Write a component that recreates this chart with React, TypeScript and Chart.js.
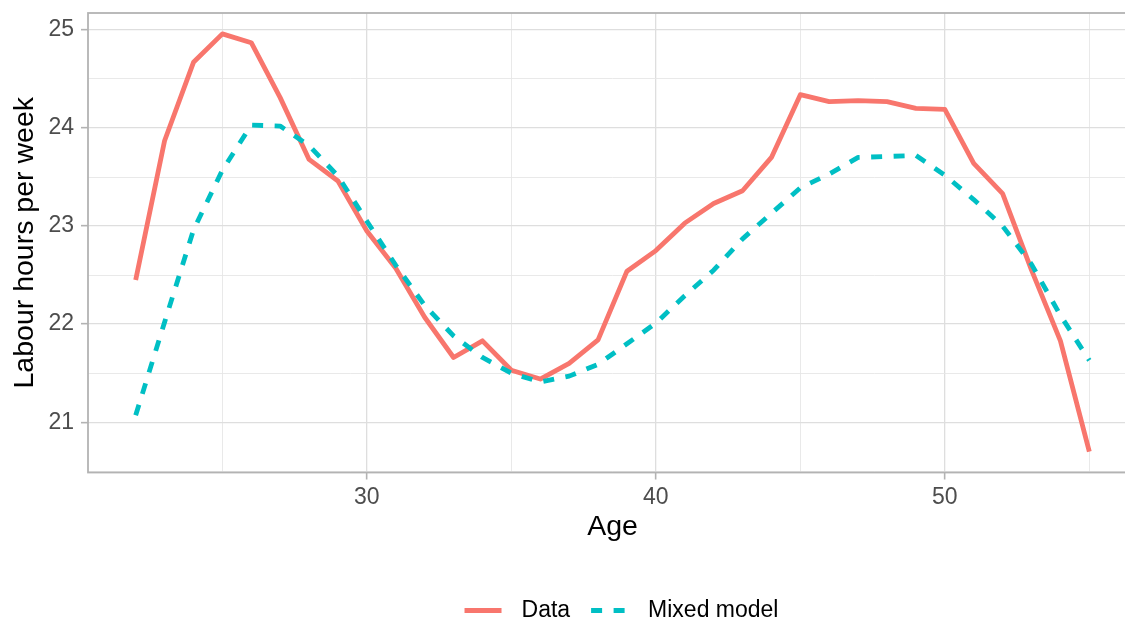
import React, { useEffect, useRef } from 'react';
import { Chart, registerables } from 'chart.js';

Chart.register(...registerables);

// ---- Data ----
const ages = [22, 23, 24, 25, 26, 27, 28, 29, 30, 31, 32, 33, 34, 35, 36, 37, 38, 39, 40, 41, 42, 43, 44, 45, 46, 47, 48, 49, 50, 51, 52, 53, 54, 55];
const dataHours = [22.45, 23.87, 24.67, 24.96, 24.87, 24.31, 23.68, 23.46, 22.95, 22.57, 22.07, 21.66, 21.83, 21.53, 21.44, 21.60, 21.84, 22.54, 22.75, 23.03, 23.23, 23.36, 23.70, 24.34, 24.27, 24.28, 24.27, 24.20, 24.19, 23.64, 23.33, 22.55, 21.83, 20.70];
const modelHours = [21.07, 22.02, 22.96, 23.57, 24.03, 24.02, 23.82, 23.51, 23.05, 22.60, 22.19, 21.88, 21.66, 21.50, 21.41, 21.47, 21.59, 21.80, 22.01, 22.29, 22.55, 22.87, 23.13, 23.39, 23.53, 23.70, 23.71, 23.72, 23.52, 23.27, 23.00, 22.61, 22.09, 21.63];
const seriesNames = ['Data', 'Mixed model'];
const xMajorTicks = [30, 40, 50];
const xMinorTicks = [25, 35, 45, 55];
const yMajorTicks = [21, 22, 23, 24, 25];
const yMinorTicks = [20.5, 21.5, 22.5, 23.5, 24.5];
const xTitle = 'Age';
const yTitle = 'Labour hours per week';

const FONT = '"Liberation Sans", Arial, Helvetica, sans-serif';
const CANVAS_W = 1151;
const CANVAS_H = 624;

const GRID_MAJOR = '#DEDEDE';
const GRID_MINOR = '#E6E6E6';
const FRAME = '#B3B3B3';
const TRANSPARENT = 'rgba(0,0,0,0)';

const panelBorder = {
  id: 'panelBorder',
  afterDatasetsDraw(chart: any) {
    const { ctx, chartArea: a } = chart;
    ctx.save();
    ctx.strokeStyle = FRAME;
    ctx.lineWidth = 1.8;
    ctx.strokeRect(a.left, a.top, a.right - a.left, a.bottom - a.top);
    ctx.restore();
  },
};

const bottomLegend = {
  id: 'bottomLegend',
  afterDraw(chart: any) {
    const ctx = chart.ctx;
    const keyW = 37;
    const keyGap = 20;
    const itemGap = 21;
    const cx = 621.5;
    const cy = 610.5;
    ctx.save();
    ctx.font = `23px ${FONT}`;
    const items = chart.data.datasets.map((ds: any) => ({ ds, w: ctx.measureText(ds.label).width }));
    const total = items.reduce((s: number, it: any, i: number) => s + keyW + keyGap + it.w + (i ? itemGap : 0), 0);
    let x = cx - total / 2;
    items.forEach((it: any, i: number) => {
      if (i) x += itemGap;
      ctx.beginPath();
      ctx.strokeStyle = it.ds.borderColor;
      ctx.lineWidth = it.ds.borderWidth;
      ctx.setLineDash(it.ds.borderDash || []);
      ctx.lineCap = 'butt';
      ctx.moveTo(x, cy);
      ctx.lineTo(x + keyW, cy);
      ctx.stroke();
      ctx.setLineDash([]);
      x += keyW + keyGap;
      ctx.fillStyle = '#000000';
      ctx.textBaseline = 'middle';
      ctx.textAlign = 'left';
      ctx.fillText(it.ds.label, x, cy);
      x += it.w;
    });
    ctx.restore();
  },
};

export default function App() {
  const ref = useRef<HTMLCanvasElement>(null);

  useEffect(() => {
    if (!ref.current) return;
    const isMajorX = (v: number) => xMajorTicks.includes(v);
    const isMajorY = (v: number) => yMajorTicks.includes(v);

    const chart = new Chart(ref.current, {
      type: 'line',
      data: {
        datasets: [
          {
            label: seriesNames[0],
            data: ages.map((a, i) => ({ x: a, y: dataHours[i] })),
            borderColor: '#F8766D',
            backgroundColor: '#F8766D',
            borderWidth: 4.8,
            pointRadius: 0,
            tension: 0,
            fill: false,
            borderJoinStyle: 'round',
            borderCapStyle: 'butt',
            order: 2,
          },
          {
            label: seriesNames[1],
            data: ages.map((a, i) => ({ x: a, y: modelHours[i] })),
            borderColor: '#00BFC4',
            backgroundColor: '#00BFC4',
            borderWidth: 4.8,
            borderDash: [11, 11.5],
            pointRadius: 0,
            tension: 0,
            fill: false,
            borderJoinStyle: 'round',
            borderCapStyle: 'butt',
            order: 1,
          },
        ],
      },
      options: {
        responsive: false,
        maintainAspectRatio: false,
        animation: false,
        devicePixelRatio: 1,
        layout: { padding: { top: 13, right: 14, bottom: 71.5, left: 0 } },
        plugins: {
          legend: { display: false },
          tooltip: { enabled: false },
        },
        scales: {
          x: {
            type: 'linear',
            min: 20.35,
            max: 56.65,
            afterBuildTicks: (s: any) => {
              s.ticks = [...xMinorTicks, ...xMajorTicks].sort((a, b) => a - b).map((v) => ({ value: v }));
            },
            afterFit: (s: any) => {
              s.height = 80;
              s.paddingLeft = 0;
              s.paddingRight = 0;
            },
            ticks: {
              autoSkip: false,
              maxRotation: 0,
              minRotation: 0,
              padding: 4,
              color: '#4D4D4D',
              font: { family: FONT, size: 23 },
              callback: (v: any) => (isMajorX(v) ? String(v) : ''),
            },
            grid: {
              color: (c: any) => (isMajorX(c.tick?.value) ? GRID_MAJOR : GRID_MINOR),
              lineWidth: (c: any) => (isMajorX(c.tick?.value) ? 1.3 : 0.9),
              tickColor: (c: any) => (isMajorX(c.tick?.value) ? FRAME : TRANSPARENT),
              tickWidth: 1.6,
              tickLength: 7,
            },
            border: { display: false },
            title: {
              display: true,
              text: xTitle,
              color: '#000000',
              font: { family: FONT, size: 28.5 },
              padding: { top: 0, bottom: 8.1 },
            },
          },
          y: {
            type: 'linear',
            min: 20.487,
            max: 25.173,
            afterBuildTicks: (s: any) => {
              s.ticks = [...yMinorTicks, ...yMajorTicks].sort((a, b) => a - b).map((v) => ({ value: v }));
            },
            afterFit: (s: any) => {
              s.width = 88;
              s.paddingTop = 0;
              s.paddingBottom = 0;
            },
            ticks: {
              autoSkip: false,
              padding: 7,
              color: '#4D4D4D',
              font: { family: FONT, size: 23 },
              callback: (v: any) => (isMajorY(v) ? String(v) : ''),
            },
            grid: {
              color: (c: any) => (isMajorY(c.tick?.value) ? GRID_MAJOR : GRID_MINOR),
              lineWidth: (c: any) => (isMajorY(c.tick?.value) ? 1.3 : 0.9),
              tickColor: (c: any) => (isMajorY(c.tick?.value) ? FRAME : TRANSPARENT),
              tickWidth: 1.6,
              tickLength: 7,
            },
            border: { display: false },
            title: {
              display: true,
              text: yTitle,
              color: '#000000',
              font: { family: FONT, size: 28.5 },
              padding: { top: 8, bottom: 0 },
            },
          },
        },
      },
      plugins: [panelBorder, bottomLegend],
    } as any);

    return () => chart.destroy();
  }, []);

  return (
    <div
      style={{
        position: 'fixed',
        left: 0,
        top: 0,
        width: 1125,
        height: CANVAS_H,
        overflow: 'hidden',
        background: '#ffffff',
      }}
    >
      <canvas
        ref={ref}
        width={CANVAS_W}
        height={CANVAS_H}
        style={{ width: CANVAS_W, height: CANVAS_H, display: 'block' }}
      />
    </div>
  );
}
